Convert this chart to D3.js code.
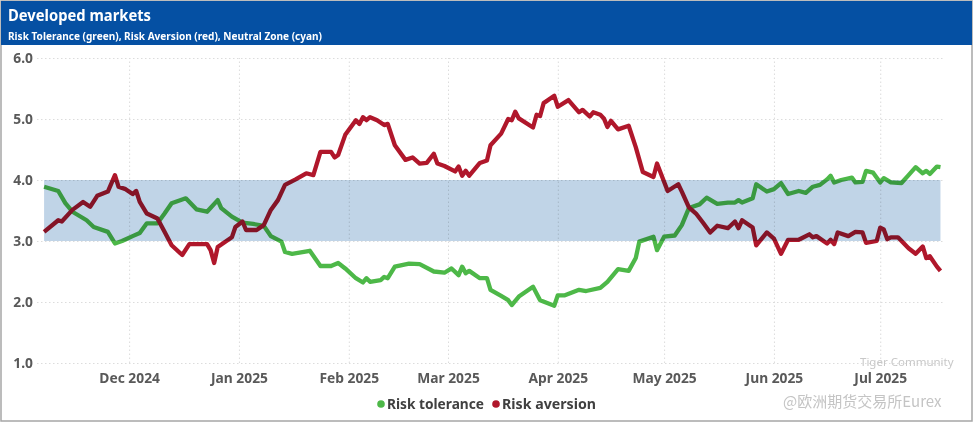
<!DOCTYPE html>
<html>
<head>
<meta charset="utf-8">
<script src="https://cdn.jsdelivr.net/npm/d3@7"></script>
<style>
    body { margin: 0; background: #fff; }
    svg text { font-family: "Noto Sans", "Open Sans", sans-serif; }
</style>
</head>
<body>
<svg id="chart" width="975" height="423"></svg>
<script>
// ---- data ----
const toleranceDates = ["2024-11-07","2024-11-11","2024-11-13","2024-11-15","2024-11-19","2024-11-21","2024-11-25","2024-11-27","2024-11-29","2024-12-02",
    "2024-12-04","2024-12-06","2024-12-09","2024-12-11","2024-12-13","2024-12-17","2024-12-20","2024-12-23","2024-12-26","2024-12-27",
    "2024-12-30","2025-01-02","2025-01-05","2025-01-08","2025-01-10","2025-01-13","2025-01-14","2025-01-16","2025-01-21","2025-01-24",
    "2025-01-27","2025-01-29","2025-01-31","2025-02-03","2025-02-05","2025-02-06","2025-02-07","2025-02-10","2025-02-11","2025-02-12",
    "2025-02-14","2025-02-18","2025-02-21","2025-02-25","2025-02-28","2025-03-02","2025-03-04","2025-03-05","2025-03-06","2025-03-07",
    "2025-03-10","2025-03-12","2025-03-13","2025-03-16","2025-03-18","2025-03-19","2025-03-21","2025-03-25","2025-03-27","2025-03-31",
    "2025-04-01","2025-04-03","2025-04-07","2025-04-09","2025-04-13","2025-04-15","2025-04-18","2025-04-21","2025-04-23","2025-04-24",
    "2025-04-28","2025-04-29","2025-05-01","2025-05-04","2025-05-06","2025-05-08","2025-05-11","2025-05-13","2025-05-16","2025-05-19",
    "2025-05-21","2025-05-22","2025-05-23","2025-05-26","2025-05-27","2025-05-30","2025-06-01","2025-06-03","2025-06-05","2025-06-08",
    "2025-06-10","2025-06-12","2025-06-14","2025-06-16","2025-06-17","2025-06-18","2025-06-20","2025-06-23","2025-06-24","2025-06-26",
    "2025-06-27","2025-06-29","2025-07-01","2025-07-02","2025-07-04","2025-07-07","2025-07-09","2025-07-11","2025-07-13","2025-07-14",
    "2025-07-15","2025-07-17","2025-07-18"];
const toleranceValues = [3.89,3.82,3.62,3.48,3.34,3.23,3.15,2.96,3.00,3.08,
    3.13,3.29,3.29,3.45,3.62,3.70,3.52,3.48,3.67,3.54,
    3.40,3.30,3.28,3.25,3.08,2.99,2.82,2.79,2.84,2.59,
    2.59,2.64,2.55,2.39,2.32,2.39,2.33,2.36,2.41,2.39,
    2.58,2.63,2.62,2.50,2.48,2.55,2.44,2.58,2.47,2.51,
    2.39,2.39,2.20,2.10,2.03,1.95,2.09,2.25,2.03,1.94,
    2.11,2.11,2.20,2.18,2.23,2.33,2.54,2.51,2.72,2.99,
    3.07,2.85,3.07,3.09,3.26,3.54,3.60,3.71,3.61,3.63,
    3.63,3.67,3.63,3.70,3.93,3.81,3.85,3.95,3.77,3.82,
    3.79,3.89,3.92,4.01,4.07,3.96,4.00,4.04,3.96,3.97,
    4.15,4.12,3.96,4.03,3.96,3.95,4.08,4.21,4.11,4.15,
    4.10,4.22,4.21];

const aversionDates = ["2024-11-07","2024-11-11","2024-11-12","2024-11-15","2024-11-18","2024-11-20","2024-11-22","2024-11-25","2024-11-27","2024-11-28",
    "2024-11-30","2024-12-02","2024-12-03","2024-12-04","2024-12-06","2024-12-09","2024-12-11","2024-12-13","2024-12-16","2024-12-18",
    "2024-12-23","2024-12-24","2024-12-25","2024-12-26","2024-12-30","2024-12-31","2025-01-02","2025-01-03","2025-01-06","2025-01-08",
    "2025-01-10","2025-01-12","2025-01-14","2025-01-17","2025-01-20","2025-01-22","2025-01-24","2025-01-27","2025-01-28","2025-01-29",
    "2025-01-31","2025-02-03","2025-02-04","2025-02-05","2025-02-06","2025-02-07","2025-02-09","2025-02-11","2025-02-12","2025-02-14",
    "2025-02-17","2025-02-19","2025-02-21","2025-02-23","2025-02-25","2025-02-26","2025-02-28","2025-03-03","2025-03-04","2025-03-05",
    "2025-03-06","2025-03-07","2025-03-10","2025-03-12","2025-03-13","2025-03-16","2025-03-18","2025-03-19","2025-03-20","2025-03-21",
    "2025-03-25","2025-03-26","2025-03-27","2025-03-28","2025-03-31","2025-04-01","2025-04-04","2025-04-07","2025-04-08","2025-04-10",
    "2025-04-11","2025-04-13","2025-04-14","2025-04-15","2025-04-16","2025-04-18","2025-04-21","2025-04-23","2025-04-25","2025-04-28",
    "2025-04-29","2025-05-02","2025-05-05","2025-05-06","2025-05-08","2025-05-10","2025-05-12","2025-05-14","2025-05-16","2025-05-19",
    "2025-05-21","2025-05-22","2025-05-23","2025-05-26","2025-05-27","2025-05-30","2025-06-01","2025-06-03","2025-06-05","2025-06-08",
    "2025-06-11","2025-06-12","2025-06-13","2025-06-16","2025-06-17","2025-06-18","2025-06-19","2025-06-22","2025-06-24","2025-06-26",
    "2025-06-27","2025-06-30","2025-07-01","2025-07-02","2025-07-03","2025-07-04","2025-07-06","2025-07-09","2025-07-11","2025-07-13",
    "2025-07-14","2025-07-15","2025-07-17","2025-07-18"];
const aversionValues = [3.15,3.34,3.32,3.51,3.64,3.56,3.74,3.81,4.08,3.89,
    3.85,3.77,3.82,3.64,3.45,3.37,3.15,2.93,2.77,2.95,
    2.95,2.85,2.64,2.90,3.06,3.23,3.32,3.18,3.18,3.26,
    3.51,3.67,3.92,4.01,4.11,4.08,4.46,4.46,4.37,4.41,
    4.74,4.98,4.92,5.03,4.98,5.03,4.98,4.90,4.92,4.57,
    4.33,4.37,4.27,4.28,4.43,4.27,4.23,4.14,4.22,4.07,
    4.15,4.07,4.28,4.32,4.57,4.76,5.00,4.98,5.12,5.01,
    4.86,5.07,5.05,5.26,5.38,5.20,5.31,5.11,5.15,5.04,
    5.11,5.07,5.01,4.87,4.97,4.83,4.89,4.54,4.13,4.05,
    4.27,3.82,3.93,3.81,3.55,3.45,3.30,3.14,3.25,3.21,
    3.32,3.21,3.34,3.22,2.93,3.14,3.04,2.79,3.02,3.02,
    3.11,3.06,3.08,2.96,3.02,2.95,3.14,3.08,3.15,3.14,
    2.97,3.00,3.22,3.19,3.03,3.06,3.06,2.88,2.79,2.91,
    2.72,2.75,2.58,2.51];

const neutralZone = [3.0, 4.0];
const yTicks = [1, 2, 3, 4, 5, 6];
const monthTicks = ["2024-12-01","2025-01-01","2025-02-01","2025-03-01","2025-04-01","2025-05-01","2025-06-01","2025-07-01"];
const legendLabels = ["Risk tolerance", "Risk aversion"];

// ---- setup ----
const parse = d3.timeParse("%Y-%m-%d");
const colors = { tolerance: "#4db848", aversion: "#b0172b" };

const svg = d3.select("#chart");
const width = +svg.attr("width");
const height = +svg.attr("height");

const x = d3.scaleTime()
    .domain([parse("2024-11-05"), parse("2025-07-19")])
    .range([37, 944]);
const y = d3.scaleLinear()
    .domain([1, 6])
    .range([363, 58]);

const tolerance = toleranceDates.map((d, i) => ({ date: parse(d), value: toleranceValues[i] }));
const aversion = aversionDates.map((d, i) => ({ date: parse(d), value: aversionValues[i] }));

// frame + header
svg.append("rect")
    .attr("x", 1).attr("y", 1)
    .attr("width", width - 4).attr("height", height - 3)
    .attr("fill", "#fff")
    .attr("stroke", "#a6a6a6").attr("stroke-width", 1.5);

svg.append("rect")
    .attr("x", 1).attr("y", 1)
    .attr("width", width - 4).attr("height", 44)
    .attr("fill", "#0550a3");

svg.append("text")
    .attr("x", 8).attr("y", 21)
    .attr("fill", "#fff")
    .attr("font-size", 16.5).attr("font-weight", "bold")
    .attr("textLength", 143).attr("lengthAdjust", "spacingAndGlyphs")
    .text("Developed markets");

svg.append("text")
    .attr("x", 8).attr("y", 40)
    .attr("fill", "#fff")
    .attr("font-size", 10.8).attr("font-weight", "bold")
    .attr("textLength", 314).attr("lengthAdjust", "spacingAndGlyphs")
    .text("Risk Tolerance (green), Risk Aversion (red), Neutral Zone (cyan)");

// grid lines (dotted)
const gridX = svg.append("g")
    .attr("transform", `translate(0,${y(1)})`)
    .call(d3.axisBottom(x).tickValues(monthTicks.map(parse)).tickSize(-(y(1) - y(6))).tickFormat(""));
const gridY = svg.append("g")
    .attr("transform", `translate(${x.range()[0]},0)`)
    .call(d3.axisLeft(y).tickValues(yTicks).tickSize(-(x.range()[1] - x.range()[0])).tickFormat(""));
[gridX, gridY].forEach(g => {
    g.select(".domain").remove();
    g.selectAll("line").attr("stroke", "#dcdcdc").attr("stroke-dasharray", "1.5,2.5");
});

// axis labels
const xAxis = svg.append("g")
    .attr("transform", `translate(0,${y(1)})`)
    .call(d3.axisBottom(x).tickValues(monthTicks.map(parse)).tickSize(0).tickPadding(10).tickFormat(d3.timeFormat("%b %Y")));
const yAxis = svg.append("g")
    .attr("transform", "translate(33,0)")
    .call(d3.axisLeft(y).tickValues(yTicks).tickSize(0).tickPadding(0).tickFormat(d3.format(".1f")));
[xAxis, yAxis].forEach(g => {
    g.select(".domain").remove();
    g.selectAll("text")
        .attr("fill", "#595959")
        .attr("font-size", 13.8)
        .attr("font-weight", "bold")
        .style("font-family", "\"Noto Sans\", sans-serif");
});
xAxis.selectAll("text").attr("dy", "0.71em");

// lines
const line = d3.line()
    .x(d => x(d.date))
    .y(d => y(d.value));

svg.append("path")
    .datum(tolerance)
    .attr("fill", "none")
    .attr("stroke", colors.tolerance)
    .attr("stroke-width", 4.3)
    .attr("stroke-linejoin", "round")
    .attr("d", line);

svg.append("path")
    .datum(aversion)
    .attr("fill", "none")
    .attr("stroke", colors.aversion)
    .attr("stroke-width", 4.3)
    .attr("stroke-linejoin", "round")
    .attr("d", line);

// neutral zone band, laid over the lines (multiply tints them)
const first = d3.min(tolerance, d => d.date);
const last = d3.max(tolerance, d => d.date);
svg.append("rect")
    .attr("x", x(first))
    .attr("y", y(neutralZone[1]))
    .attr("width", x(last) - x(first))
    .attr("height", y(neutralZone[0]) - y(neutralZone[1]))
    .attr("fill", "#c0d4e7")
    .style("mix-blend-mode", "multiply");

// legend
const legend = svg.append("g").attr("transform", "translate(381,404)");
const legendColors = [colors.tolerance, colors.aversion];
const legendWidths = [97, 94];
let lx = 0;
legendLabels.forEach((label, i) => {
    legend.append("circle")
        .attr("cx", lx).attr("cy", 0).attr("r", 3.8)
        .attr("fill", legendColors[i]);
    legend.append("text")
        .attr("x", lx + 6).attr("y", 5)
        .attr("fill", "#404040")
        .attr("font-size", 14.5).attr("font-weight", "bold")
        .attr("textLength", legendWidths[i]).attr("lengthAdjust", "spacingAndGlyphs")
        .text(label);
    lx += 6 + legendWidths[i] + 12;
});

// source watermark
svg.append("text")
    .attr("x", 860).attr("y", 366)
    .attr("fill", "#c8c8c8").attr("font-size", 11.5)
    .text("Tiger Community");
svg.append("text")
    .attr("x", 783).attr("y", 407)
    .attr("fill", "#c4c4c4").attr("font-size", 15)
    .style("font-family", "\"Noto Sans CJK SC\", sans-serif")
    .text("@欧洲期货交易所Eurex");
</script>
</body>
</html>
